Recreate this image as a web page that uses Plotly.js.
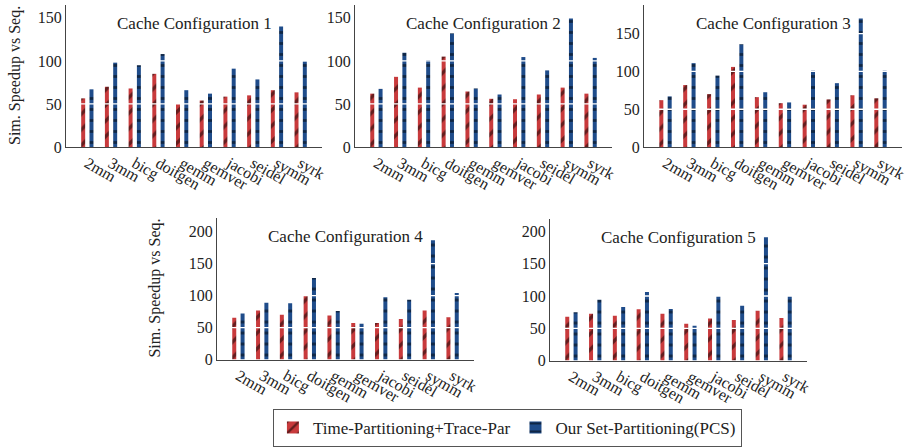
<!DOCTYPE html>
<html><head><meta charset="utf-8">
<script src="https://cdn.plot.ly/plotly-3.0.1.min.js"></script>
<style>html,body{margin:0;padding:0;background:#fff}#chart{width:911px;height:447px}</style>
</head><body><div id="chart"></div>
<script>
const categories = ['2mm','3mm','bicg','doitgen','gemm','gemver','jacobi','seidel','symm','syrk'];
const timePar1 = [56.5,70,68,85,50,54,58.5,60,66,63.5];
const setPar1  = [67,98,95,108,66,62,91,78.5,140,99.5];
const timePar2 = [62,81.5,69,105,64.5,56,55.5,61,69,62];
const setPar2  = [67.5,109.5,101,132,68,61,104.5,89,150,103.5];
const timePar3 = [62,82,70,106,66,58,56,63,68.5,64.5];
const setPar3  = [67,111,94.5,136,72.5,59,101,84.5,170,101];
const timePar4 = [65.5,76.5,70,99.5,69,57,57,63.5,76.5,66];
const setPar4  = [72,89,88,127.5,76,56,97.5,93.5,186.5,104];
const timePar5 = [68,72.5,69.5,79.5,72.5,57,65,63,77,66];
const setPar5  = [75,94,83,106,80,54,100,85,191,100];
const yTicks = [0,50,100,150,200];
const seriesNames = ['Time-Partitioning+Trace-Par','Our Set-Partitioning(PCS)'];
const panelTitles = ['Cache Configuration 1','Cache Configuration 2','Cache Configuration 3','Cache Configuration 4','Cache Configuration 5'];
const yTitle = 'Sim. Speedup vs Seq.';

const W = 911, H = 447;
const FONT = '"Liberation Serif", "DejaVu Serif", serif';
const RED = '#c83a3c', BLUE = '#1f4c8a';

// panel geometry in pixels: [left, right, top, bottom, ymax]
const panels = [
  [66, 322, 5, 148, 165],
  [355, 612, 5, 148, 165],
  [644, 902, 5, 148, 188],
  [217, 474, 219, 362, 222],
  [550, 807, 220, 363, 220]
];
const timeData = [timePar1,timePar2,timePar3,timePar4,timePar5];
const setData = [setPar1,setPar2,setPar3,setPar4,setPar5];

const traces = [];
const layout = {
  width: W, height: H,
  margin: {l:0,r:0,t:0,b:0},
  paper_bgcolor: '#fff', plot_bgcolor: '#fff',
  barmode: 'group', bargap: 0.3, bargroupgap: 0.52,
  font: {family: FONT, size: 15, color: '#222'},
  showlegend: true,
  legend: {
    orientation: 'h', x: 0.557, xanchor: 'center', y: 0.079, yanchor: 'top',
    bordercolor: '#555', borderwidth: 1, font: {family: FONT, size: 17, color: '#222'},
    itemwidth: 30, tracegroupgap: 0
  },
  shapes: [], annotations: []
};

panels.forEach((p, i) => {
  const n = i === 0 ? '' : String(i + 1);
  const xa = 'x' + n, ya = 'y' + n;
  traces.push({
    type: 'bar', x: categories, y: timeData[i], name: seriesNames[0],
    xaxis: xa, yaxis: ya, legendgroup: 'a', showlegend: i === 0,
    marker: {color: RED, line: {width: 0},
      pattern: {shape: '/', fgcolor: '#000', fillmode: 'overlay', size: 11, solidity: 0.3}}
  });
  traces.push({
    type: 'bar', x: categories, y: setData[i], name: seriesNames[1],
    xaxis: xa, yaxis: ya, legendgroup: 'b', showlegend: i === 0,
    marker: {color: BLUE, line: {width: 0},
      pattern: {shape: '-', fgcolor: '#000', fillmode: 'overlay', size: 11, solidity: 0.25}}
  });
  const [l, r, t, b, ymax] = p;
  layout['xaxis' + n] = {
    domain: [l / W, r / W], anchor: ya, range: [-0.9, 9.9],
    showline: true, linecolor: '#444', linewidth: 1, ticks: '', showgrid: false,
    tickangle: 30, tickfont: {family: FONT, size: 16, color: '#222'}, fixedrange: true
  };
  layout['yaxis' + n] = {
    domain: [(H - b) / H, (H - t) / H], anchor: xa, range: [0, ymax],
    tickvals: yTicks, showline: true, linecolor: '#444', linewidth: 1, ticks: '',
    showgrid: false, zeroline: false, tickfont: {family: FONT, size: 16, color: '#222'},
    fixedrange: true
  };
  yTicks.filter(v => v > 0 && v < ymax).forEach(v => {
    layout.shapes.push({type: 'line', layer: 'above', xref: xa + ' domain', yref: ya,
      x0: 0, x1: 1, y0: v, y1: v, line: {color: '#fff', width: 1.3}});
  });
  layout.annotations.push({
    text: panelTitles[i], xref: xa + ' domain', yref: ya + ' domain',
    x: 0.5, y: 0.867, xanchor: 'center', yanchor: 'middle', showarrow: false,
    font: {family: FONT, size: 17, color: '#222'}
  });
});
[[15, 5, 148], [155, 219, 362]].forEach(([cx, t, b]) => {
  layout.annotations.push({
    text: yTitle, xref: 'paper', yref: 'paper', x: cx / W, y: (H - (t + b) / 2) / H,
    xanchor: 'center', yanchor: 'middle', textangle: -90, showarrow: false,
    font: {family: FONT, size: 16, color: '#222'}
  });
});

Plotly.newPlot('chart', traces, layout, {displayModeBar: false, staticPlot: true});
</script></body></html>
